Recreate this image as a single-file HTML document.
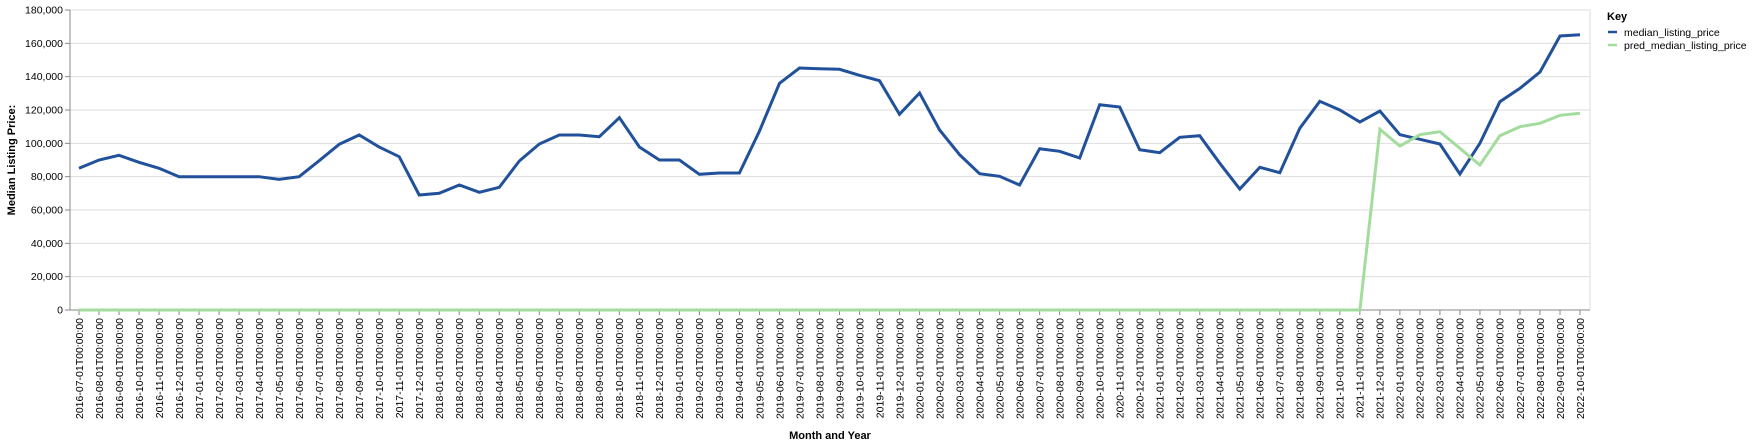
<!DOCTYPE html>
<html><head><meta charset="utf-8"><style>
body{margin:0;background:#fff;}
svg{display:block;font-family:"Liberation Sans",sans-serif;}
</style></head><body>
<svg id="chart" width="1759" height="447"></svg>
<script>
const months = [];
for (let y = 2016, m = 7; !(y === 2022 && m === 11); ) { months.push(y + '-' + String(m).padStart(2,'0') + '-01T00:00:00'); m++; if (m > 12) { m = 1; y++; } }
const actualValues = [85000,90000,92800,88600,85000,80000,80000,80000,80000,80000,78400,80000,89600,99400,105000,97800,92000,69000,70000,75000,70600,73600,89400,99600,105000,105000,104000,115400,97800,90000,90000,81400,82200,82200,107400,136000,145200,144800,144400,140800,137600,117400,130200,108000,93200,81800,80200,75000,96800,95200,91200,123200,121800,96200,94400,103600,104600,88000,72600,85600,82400,109000,125200,120000,112800,119400,105200,102400,99600,81600,100000,125000,133000,142800,164400,165200];
const predValues = [0,0,0,0,0,0,0,0,0,0,0,0,0,0,0,0,0,0,0,0,0,0,0,0,0,0,0,0,0,0,0,0,0,0,0,0,0,0,0,0,0,0,0,0,0,0,0,0,0,0,0,0,0,0,0,0,0,0,0,0,0,0,0,0,0,108400,98400,105200,107000,97000,87000,104600,110000,112000,116800,118000];
const yTicks = [0,20000,40000,60000,80000,100000,120000,140000,160000,180000];

const NS = 'http://www.w3.org/2000/svg';
const svg = document.getElementById('chart');
const X0 = 70, X1 = 1590, Y0 = 310, Y1 = 10, first = 79, step = (1580 - 79) / 75;
const xs = i => first + i * step;
const ys = v => Y0 - (v / 180000) * (Y0 - Y1);
function el(tag, attrs, parent) { const e = document.createElementNS(NS, tag); for (const k in attrs) e.setAttribute(k, attrs[k]); (parent || svg).appendChild(e); return e; }

yTicks.forEach(t => {
  const g = el('line', {x1:X0, x2:X1, y1:ys(t), y2:ys(t), stroke:'#ddd', 'stroke-width':1});
  
  
  el('line', {x1:X0-5, x2:X0, y1:ys(t), y2:ys(t), stroke:'#888'});
  const tx = el('text', {x:X0-7, y:ys(t)+3.5, 'text-anchor':'end', 'font-size':10.5, fill:'#000'});
  tx.textContent = t.toLocaleString('en-US');
  
  
});
el('line', {x1:X1, x2:X1, y1:Y1, y2:Y0, stroke:'#ddd'});
el('line', {x1:X0, x2:X0, y1:Y1, y2:Y0, stroke:'#888'});
el('line', {x1:X0, x2:X1, y1:Y0, y2:Y0, stroke:'#888'});

months.forEach((m, i) => {
  el('line', {x1:xs(i), x2:xs(i), y1:Y0, y2:Y0+5, stroke:'#888'});
  const tx = el('text', {transform:`translate(${xs(i)+3.8},318) rotate(-90)`, 'text-anchor':'end', 'font-size':10.5, fill:'#000'});
  tx.textContent = m;
  
  
});

function drawLine(vals, color, name) {
  const p = el('path', {d: vals.map((v,i)=>(i?'L':'M')+xs(i).toFixed(1)+','+ys(v).toFixed(1)).join(''), fill:'none', stroke:color, 'stroke-width':3, 'stroke-linejoin':'miter'});
  
  
}
drawLine(actualValues, '#22519b', 'median-listing-price-line');
drawLine(predValues, '#a3dc9d', 'pred-median-listing-price-line');

const xt = el('text', {x:830, y:439, 'text-anchor':'middle', 'font-size':11, 'font-weight':'bold'});
xt.textContent = 'Month and Year';


const yt = el('text', {transform:'translate(15,160) rotate(-90)', 'text-anchor':'middle', 'font-size':11, 'font-weight':'bold'});
yt.textContent = 'Median Listing Price:';



const lg = el('g', {});


const kt = el('text', {x:1607, y:20, 'font-size':11, 'font-weight':'bold'}, lg);
kt.textContent = 'Key';
[['median_listing_price','#22519b'],['pred_median_listing_price','#a3dc9d']].forEach((d, i) => {
  const y = 36 + i * 13;
  el('line', {x1:1608, x2:1617, y1:y-4, y2:y-4, stroke:d[1], 'stroke-width':2.5}, lg);
  const t = el('text', {x:1624, y:y, 'font-size':10.5}, lg);
  t.textContent = d[0];
  
  
});
</script>
</body></html>
